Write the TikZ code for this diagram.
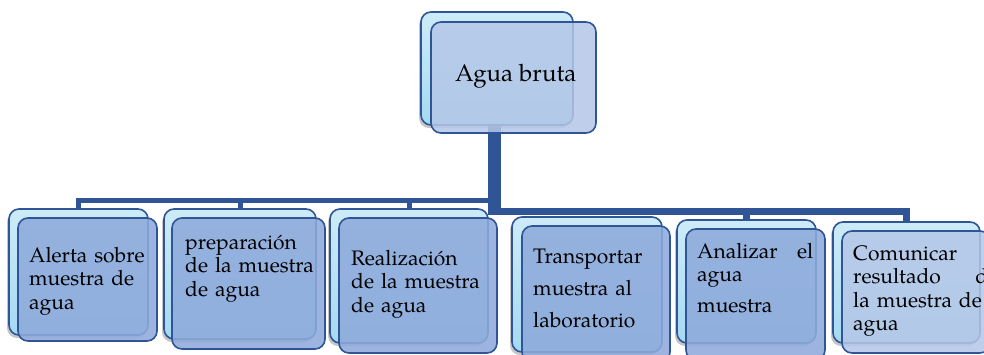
\documentclass[tikz,border=0pt]{standalone}
\usepackage{fontspec}
\setmainfont{TeX Gyre Pagella}
\usetikzlibrary{shadows}
\pgfdeclarelayer{bg}
\pgfsetlayers{bg,main}
\definecolor{conn}{HTML}{2F5597}
\definecolor{backtop}{HTML}{CDEBF8}
\definecolor{backbot}{HTML}{A5D9F2}
\definecolor{frontc}{HTML}{8EAADB}
\definecolor{frontl}{HTML}{B4C7E7}
\tikzset{
  backbox/.style={draw=conn, line width=1.6pt, rounded corners=10pt,
    top color=backtop, bottom color=backbot, inner sep=0pt,
    drop shadow={shadow xshift=-2pt, shadow yshift=-3pt, fill=black!50, opacity=0.45}},
  frontbox/.style={draw=conn, line width=1.6pt, rounded corners=10pt,
    fill=frontc, fill opacity=0.88, inner sep=0pt},
  lightfront/.style={frontbox, fill=frontl, fill opacity=0.85},
  txt/.style={anchor=base west, inner sep=0pt, align=left,
    font=\fontsize{21}{23.5}\selectfont},
  bar/.style={draw=conn, line width=5pt},
  trunkline/.style={draw=conn, line width=12.5pt},
}
\begin{document}
\begin{tikzpicture}[x=1pt,y=-1pt]
\useasboundingbox (0,0) rectangle (984,354);
% top box
\node[backbox, minimum width=152pt, minimum height=113pt] (topb) at (497,68.5) {};
\node[lightfront, minimum width=165pt, minimum height=111pt] (topf) at (513.5,77.5) {};
\node[anchor=base west, inner sep=0pt, font=\fontsize{24}{28}\selectfont] (tt) at (455,81) {Agua bruta};
% bottom boxes
\node[backbox, minimum width=139pt, minimum height=126pt] (b1) at (78.5,272) {};
\node[frontbox, minimum width=139pt, minimum height=123pt] (f1) at (87.5,279.5) {};
\node[backbox, minimum width=152pt, minimum height=130pt] (b2) at (240,274) {};
\node[frontbox, minimum width=153pt, minimum height=131pt] (f2) at (248.5,283.5) {};
\node[backbox, minimum width=158pt, minimum height=134pt] (b3) at (409,276) {};
\node[frontbox, minimum width=158pt, minimum height=135pt] (f3) at (418,285.5) {};
\node[backbox, minimum width=150pt, minimum height=135pt] (b4) at (587,284.5) {};
\node[frontbox, minimum width=148pt, minimum height=136pt] (f4) at (596,294) {};
\node[backbox, minimum width=139pt, minimum height=123pt] (b5) at (746.5,281.5) {};
\node[frontbox, minimum width=139pt, minimum height=131pt] (f5) at (755.5,294.5) {};
\node[backbox, minimum width=147pt, minimum height=121pt] (b6) at (906.5,282.5) {};
\node[lightfront, minimum width=148pt, minimum height=122pt] (f6) at (916,292) {};
% texts
\node[txt, text width=125pt] (t1) at (29,262) {Alerta sobre\\muestra de\\agua};
\node[txt, text width=140pt] (t2) at (185,249) {preparaci\'on\\de la muestra\\de agua};
\node[txt, text width=140pt] (t3) at (351,265) {Realizaci\'on\\de la muestra\\de agua};
\node[txt, text width=130pt] (t4) at (533,263) {Transportar\\[8.5pt]muestra al\\[8.5pt]laboratorio};
\node[txt, text width=116pt] (t5) at (697,258) {Analizar\hfill el\\agua\\[7pt]muestra};
\node[txt, text width=145pt] (t6) at (853,260) {Comunicar\\resultado\hfill de\\la muestra de\\agua};
% connectors
\coordinate (jl) at (494.5,200.5);
\coordinate (jr) at (494.5,211);
\coordinate (jend) at (494.5,215);
\begin{pgfonlayer}{bg}
\draw[trunkline] (jend |- topb.south) -- (jend);
\draw[bar] (jl) -| (b1.north);
\draw[bar] (jl) -| (b2.north);
\draw[bar] (jl) -| (b3.north);
\draw[bar, line width=7pt] (jr) -| (b5.north);
\draw[bar, line width=7pt] (jr) -| (b6.north);
\end{pgfonlayer}
\end{tikzpicture}
\end{document}
